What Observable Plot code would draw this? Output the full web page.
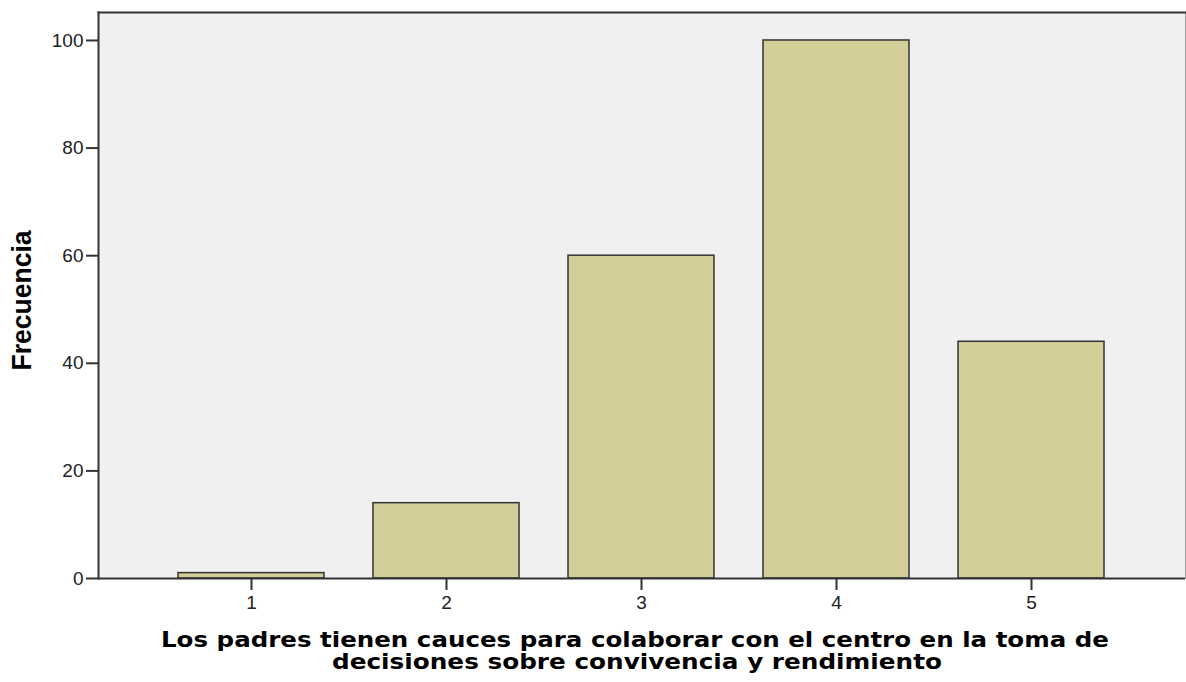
<!DOCTYPE html>
<html>
<head>
<meta charset="utf-8">
<script src="https://cdn.jsdelivr.net/npm/d3@7"></script>
<script src="https://cdn.jsdelivr.net/npm/@observablehq/plot@0.6"></script>
<style>
  html, body { margin: 0; padding: 0; background: #fff; }
  #chart svg { display: block; }
</style>
</head>
<body>
<div id="chart"></div>
<script>
const categories = ["1", "2", "3", "4", "5"];
const frequencies = [1, 14, 60, 100, 44];
const yTicks = [0, 20, 40, 60, 80, 100];
const yLabel = "Frecuencia";
const xLabelLines = [
  "Los padres tienen cauces para colaborar con el centro en la toma de",
  "decisiones sobre convivencia y rendimiento"
];

const data = categories.map((c, i) => ({cat: c, freq: frequencies[i]}));

const chart = Plot.plot({
  width: 1186,
  height: 682,
  marginLeft: 98,
  marginRight: 1,
  marginTop: 12,
  marginBottom: 104,
  style: {fontFamily: "'Liberation Sans', Arial, sans-serif", background: "#fff", color: "#222"},
  x: {domain: categories, paddingInner: 0.25, paddingOuter: 0.4},
  y: {domain: [0, 105.2]},
  marks: [
    Plot.frame({fill: "#eff0ef", stroke: "#a0a0a0", strokeWidth: 1}),
    Plot.frame({anchor: "left", stroke: "#333", strokeWidth: 2}),
    Plot.frame({anchor: "top", stroke: "#333", strokeWidth: 2}),
    Plot.barY(data, {x: "cat", y: "freq", fill: "#d3ce97", stroke: "#333", strokeWidth: 1.5}),
    Plot.ruleY([0], {stroke: "#333", strokeWidth: 2}),
    Plot.axisY({ticks: yTicks, tickSize: 12, tickPadding: 3, fontSize: 19, label: null, stroke: "#333", strokeWidth: 2}),
    Plot.axisX({tickSize: 12, tickPadding: 5, fontSize: 19, label: null, stroke: "#333", strokeWidth: 2}),
    Plot.text([yLabel], {frameAnchor: "left", dx: -76, dy: 5, rotate: -90, fontSize: 28, fontWeight: "bold", fill: "#000", textAnchor: "middle", lineAnchor: "middle"}),
    Plot.text([xLabelLines[0]], {frameAnchor: "bottom", dy: 62, dx: -7, fontSize: 21, fontFamily: "'DejaVu Sans', sans-serif", fontWeight: "bold", fill: "#000", lineAnchor: "middle", textAnchor: "middle"}),
    Plot.text([xLabelLines[1]], {frameAnchor: "bottom", dy: 84, dx: -5, fontSize: 21, fontFamily: "'DejaVu Sans', sans-serif", fontWeight: "bold", fill: "#000", lineAnchor: "middle", textAnchor: "middle"})
  ]
});
// stretch the title texts to the widths they occupy in the reference
const stretch = {[xLabelLines[0]]: 948, [xLabelLines[1]]: 610, [yLabel]: 140};
d3.select(chart).selectAll("text").each(function() {
  const w = stretch[this.textContent];
  if (w) d3.select(this).attr("textLength", w).attr("lengthAdjust", "spacingAndGlyphs");
});
document.getElementById("chart").appendChild(chart);
</script>
</body>
</html>
